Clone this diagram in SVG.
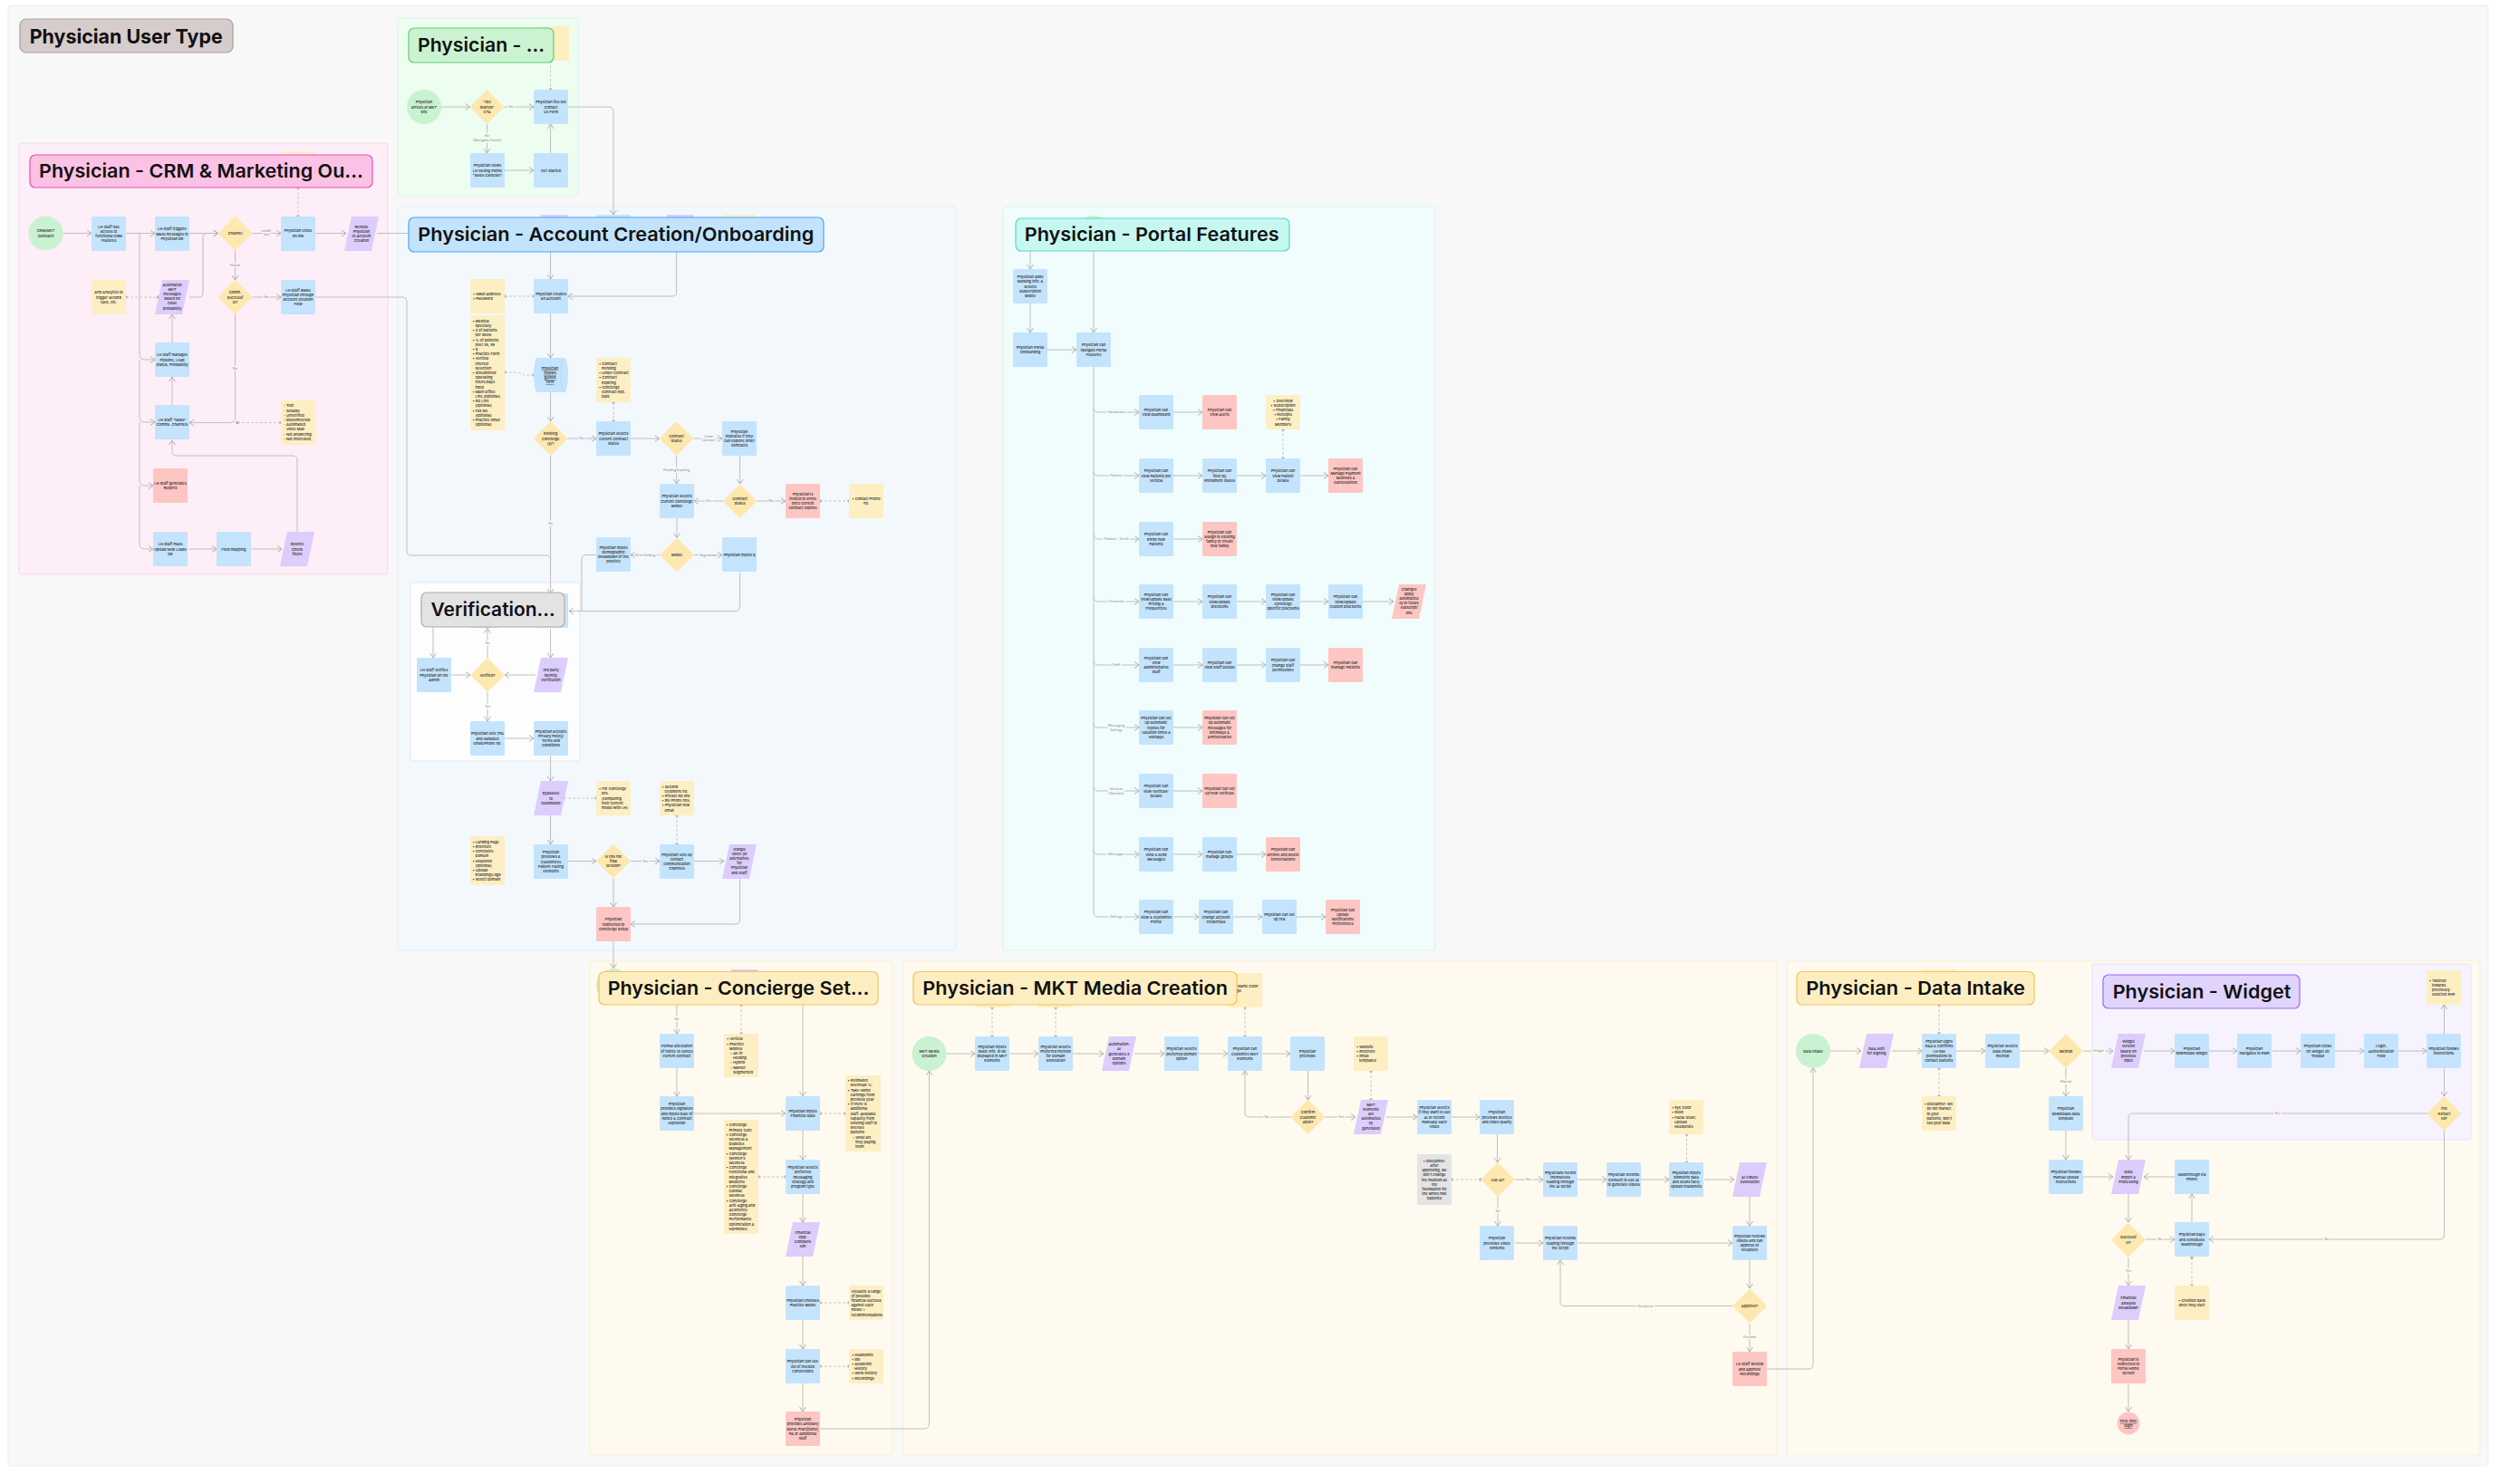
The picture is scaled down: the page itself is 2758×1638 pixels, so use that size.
<svg xmlns="http://www.w3.org/2000/svg" width="2758" height="1638" viewBox="0 0 2758 1638">
<style>
.t{font-family:Inter,'Liberation Sans',sans-serif;font-size:4px;font-weight:500;fill:#222;text-anchor:middle}
.tl{font-family:Inter,'Liberation Sans',sans-serif;font-size:4px;font-weight:500;fill:#222;text-anchor:start}
.u{text-decoration:underline}
.lb{font-family:Inter,'Liberation Sans',sans-serif;font-size:3.6px;fill:#8a8a8a;text-anchor:middle;paint-order:stroke;stroke-width:3;stroke-linejoin:round}
.sp{stroke:#fdeef7}.sg{stroke:#edfdf0}.sb{stroke:#f3f8fd}.sw{stroke:#fdfdfd}.sc{stroke:#f0fdfc}.sy{stroke:#fffaf0}.sv{stroke:#f6f3fe}
.st{font-family:Inter,'Liberation Sans',sans-serif;font-size:20.5px;font-weight:600;fill:#111}
.bx{fill:#c4e4fd}.rd{fill:#fec6c3}.ye{fill:#fdefc2}.pu{fill:#dccdfd}.di{fill:#fde9b0}.gr{fill:#c9f2d1}.gy{fill:#e4e4e4}
.c{fill:none;stroke:#b8b8b8;stroke-width:0.9;marker-end:url(#ah)}
.cn{fill:none;stroke:#b8b8b8;stroke-width:0.9}
.dl{fill:none;stroke:#c4c4c4;stroke-width:0.9;stroke-dasharray:3 2;marker-start:url(#dt);marker-end:url(#dt)}
</style>
<defs>
<marker id="ah" viewBox="0 0 6 8" refX="5.5" refY="4" markerWidth="6" markerHeight="8" markerUnits="userSpaceOnUse" orient="auto"><path d="M0.5,0.5 L5.5,4 L0.5,7.5" fill="none" stroke="#a8a8a8" stroke-width="0.9"/></marker>
<marker id="dt" viewBox="0 0 4 4" refX="2" refY="2" markerWidth="3.6" markerHeight="3.6" markerUnits="userSpaceOnUse"><circle cx="2" cy="2" r="2" fill="#b5b5b5"/></marker>
</defs>
<rect width="2758" height="1638" fill="#ffffff"/>
<rect x="9" y="6" width="2737" height="1612" rx="4" fill="#f8f8f8" stroke="#ececec"/>
<g id="panels">
<rect x="439" y="20" width="199" height="197" rx="3" fill="#edfdf0" stroke="#dcf6e2"/>
<rect x="21" y="158" width="407" height="476" rx="3" fill="#fdeef7" stroke="#f8d8ea"/>
<rect x="439" y="228" width="616" height="821" rx="3" fill="#f3f8fd" stroke="#e3edf7"/>
<rect x="453" y="643" width="187" height="197" rx="3" fill="#fdfdfd" stroke="#e6e6e6"/>
<rect x="1107" y="228" width="477" height="821" rx="3" fill="#f0fdfc" stroke="#d5f5f0"/>
<rect x="651" y="1061" width="334" height="545" rx="3" fill="#fffaf0" stroke="#fbeed3"/>
<rect x="997" y="1061" width="964" height="545" rx="3" fill="#fffaf0" stroke="#fbeed3"/>
<rect x="1972" y="1061" width="765" height="546" rx="3" fill="#fffaf0" stroke="#fbeed3"/>
<rect x="2309" y="1064" width="418" height="194" rx="3" fill="#f6f3fe" stroke="#e8e1fa"/>
</g>
<g id="connectors">
<!-- CRM -->
<path class="c" d="M69.5,257.5 H101"/>
<path class="c" d="M139,257.5 H171"/>
<path class="cn" d="M154,257.5 V391"/>
<path class="c" d="M154,391 Q154,397 160,397 H171"/>
<path class="cn" d="M154,397 V460"/>
<path class="c" d="M154,460 Q154,466 160,466 H171"/>
<path class="cn" d="M154,466 V530"/>
<path class="c" d="M154,530 Q154,536 160,536 H169"/>
<path class="c" d="M154,536 V600 Q154,606 160,606 H169"/>
<path class="c" d="M209,257.5 H240.5"/>
<path class="c" d="M209,328 H219 Q224,328 224,323 V262.5 Q224,257.5 229,257.5 H240.5"/>
<path class="c" d="M278.5,257.5 H310"/>
<text class="lb sp" x="294" y="255.5">email/<tspan x="294" dy="4.4">text</tspan></text>
<path class="c" d="M348,257.5 H382"/>
<path class="c" d="M416,257.5 H595"/>
<path class="c" d="M259.5,276.5 V309"/>
<text class="lb sp" x="259.5" y="294">Phone</text>
<path class="c" d="M278.5,328 H310"/>
<text class="lb sp" x="294" y="329.3">Yes</text>
<path class="cn" d="M348,328 H444 Q449,328 449,333 V608 Q449,613 454,613 H602 Q607.6,613 607.6,618"/>
<path class="c" d="M259.5,347 V461 Q259.5,466.5 254,466.5 H209"/>
<text class="lb sp" x="259.5" y="408.3">No</text>
<path class="dl" d="M310,466.5 H262"/>
<path class="dl" d="M139,328 H174.5"/>
<path class="c" d="M190,378 V347"/>
<path class="c" d="M190,447 V416"/>
<path class="c" d="M328,587 V508 Q328,503 323,503 H195 Q190,503 190,498 V486"/>
<path class="c" d="M208,606 H239"/>
<path class="c" d="M277,606 H311"/>
<path class="dl" d="M329,207 V239"/>
<!-- Green -->
<path class="c" d="M487,118 H518.5"/>
<path class="c" d="M556.5,118 H589"/>
<text class="lb sg" x="564" y="119.3">Yes</text>
<path class="c" d="M537.5,137 V169"/>
<text class="lb sg" x="537.5" y="151">No<tspan x="537.5" dy="4.6">(Navigates Freely)</tspan></text>
<path class="c" d="M557,188 H589"/>
<path class="c" d="M607.6,169 V137"/>
<path class="c" d="M626,118 H672 Q677,118 677,123 V237"/>
<path class="dl" d="M607.6,67 V99"/>
<!-- Account -->
<path class="c" d="M607.6,278 V308"/>
<path class="c" d="M746.6,278 V322 Q746.6,327 741.6,327 H627"/>
<path class="dl" d="M557,327 H589"/>
<path class="c" d="M607.6,346 V395"/>
<path class="dl" d="M557,411 H572 L578,414 H589"/>
<path class="c" d="M607.6,433 V465"/>
<path class="c" d="M626.6,484 H658"/>
<text class="lb sb" x="642" y="485.3">Yes</text>
<path class="dl" d="M677,444 V465"/>
<path class="c" d="M696,484 H727.6"/>
<path class="c" d="M765.6,484 H797"/>
<text class="lb sb" x="782" y="482.6">Under<tspan x="782" dy="4.4">Contract</tspan></text>
<path class="c" d="M746.6,503 V534"/>
<text class="lb sb" x="746.6" y="519.9">Pending/Expiring</text>
<path class="c" d="M816.6,503 V534"/>
<path class="c" d="M797.6,553 H766"/>
<text class="lb sb" x="782" y="554.3">Yes</text>
<path class="c" d="M835.6,553 H867"/>
<text class="lb sb" x="851" y="554.3">No</text>
<path class="dl" d="M905,553 H937"/>
<path class="c" d="M747,572 V593.5"/>
<path class="c" d="M728,612.5 H696"/>
<text class="lb sb" x="712" y="613.8">All in Holding</text>
<path class="c" d="M766,612.5 H797"/>
<text class="lb sb" x="781.6" y="613.8">Segmented</text>
<path class="cn" d="M658,612.5 H647 Q642,612.5 642,617.5 V674.5"/>
<path class="c" d="M816.6,632 V669.5 Q816.6,674.5 811.6,674.5 H628"/>
<path class="c" d="M607.6,503 V655"/>
<text class="lb sb" x="607.6" y="579.3">No</text>
<path class="c" d="M478,692 V726"/>
<path class="c" d="M538,726 V693.5"/>
<text class="lb sw" x="538" y="711.3">No</text>
<path class="c" d="M607.6,694 V726"/>
<path class="c" d="M498,745 H519"/>
<path class="c" d="M591,745 H557"/>
<path class="c" d="M538,764 V796"/>
<text class="lb sw" x="538" y="781.3">Yes</text>
<path class="c" d="M557,815 H589"/>
<path class="c" d="M607.6,834 V862"/>
<path class="dl" d="M622,881 H658"/>
<path class="c" d="M607.6,900 V932"/>
<path class="c" d="M627,950.5 H658"/>
<path class="c" d="M696,950.5 H728"/>
<text class="lb sb" x="712" y="951.8">Yes</text>
<path class="dl" d="M747,900 V932"/>
<path class="c" d="M766,950.5 H799"/>
<path class="c" d="M677,969.5 V1001"/>
<path class="c" d="M816.6,969.5 V1015 Q816.6,1020 811.6,1020 H696"/>
<path class="c" d="M677,1039 V1068.5"/>
<!-- Portal -->
<path class="c" d="M1137,277 V297"/>
<path class="c" d="M1137,335 V367"/>
<path class="c" d="M1207,277 V367"/>
<path class="c" d="M1156,386 H1188"/>
<path class="cn" d="M1207,404 V1007"/>
<path class="c" d="M1207,450 Q1207,455 1212,455 H1257"/>
<path class="c" d="M1207,520 Q1207,525 1212,525 H1257"/>
<path class="c" d="M1207,590 Q1207,595 1212,595 H1257"/>
<path class="c" d="M1207,659 Q1207,664 1212,664 H1257"/>
<path class="c" d="M1207,729 Q1207,734 1212,734 H1257"/>
<path class="c" d="M1207,798 Q1207,803 1212,803 H1257"/>
<path class="c" d="M1207,868 Q1207,873 1212,873 H1257"/>
<path class="c" d="M1207,938 Q1207,943 1212,943 H1257"/>
<path class="c" d="M1207,1007 Q1207,1012 1212,1012 H1257"/>
<text class="lb sc" x="1232" y="456.3">Dashboard</text>
<text class="lb sc" x="1232" y="526.3">Patients</text>
<text class="lb sc" x="1232" y="596.3">Patients - Enroll</text>
<text class="lb sc" x="1232" y="665.3">Financials</text>
<text class="lb sc" x="1232" y="735.3">Staff</text>
<text class="lb sc" x="1232" y="802">Messaging<tspan x="1232" dy="4.6">Settings</tspan></text>
<text class="lb sc" x="1232" y="872">Services<tspan x="1232" dy="4.6">(Verticals)</tspan></text>
<text class="lb sc" x="1232" y="944.3">Messages</text>
<text class="lb sc" x="1232" y="1013.3">Settings</text>
<path class="c" d="M1295,455 H1327"/>
<path class="c" d="M1295,525 H1327"/><path class="c" d="M1365,525 H1397"/><path class="c" d="M1435,525 H1466"/>
<path class="dl" d="M1416,474 V506"/>
<path class="c" d="M1295,595 H1327"/>
<path class="c" d="M1295,664 H1327"/><path class="c" d="M1365,664 H1397"/><path class="c" d="M1435,664 H1466"/><path class="c" d="M1504,664 H1538"/>
<path class="c" d="M1295,734 H1327"/><path class="c" d="M1365,734 H1397"/><path class="c" d="M1435,734 H1466"/>
<path class="c" d="M1295,803 H1327"/>
<path class="c" d="M1295,873 H1327"/>
<path class="c" d="M1295,943 H1327"/><path class="c" d="M1365,943 H1397"/>
<path class="c" d="M1295,1012 H1323"/><path class="c" d="M1361,1012 H1393"/><path class="c" d="M1431,1012 H1463"/>
<!-- Concierge -->
<path class="c" d="M747,1109 V1141"/>
<text class="lb sy" x="747" y="1126.3">No</text>
<path class="dl" d="M818,1109 V1141"/>
<path class="c" d="M886,1109 V1210"/>
<path class="c" d="M747,1178 V1210"/>
<path class="c" d="M766,1229 H867"/>
<path class="dl" d="M905,1229 H933"/>
<path class="c" d="M886,1248 V1280"/>
<path class="dl" d="M837,1299 H867"/>
<path class="c" d="M886,1317 V1349"/>
<path class="c" d="M886,1387 V1419"/>
<path class="dl" d="M905,1438 H937"/>
<path class="c" d="M886,1457 V1489"/>
<path class="dl" d="M905,1508 H937"/>
<path class="c" d="M886,1527 V1558"/>
<path class="c" d="M905,1577 H1020 Q1025.5,1577 1025.5,1571.5 V1182"/>
<!-- MKT -->
<path class="c" d="M1044.5,1163 H1076"/>
<path class="c" d="M1114,1163 H1146"/>
<path class="c" d="M1184,1163 H1218"/>
<path class="c" d="M1252,1163 H1285"/>
<path class="c" d="M1323,1163 H1355"/>
<path class="c" d="M1393,1163 H1424"/>
<path class="dl" d="M1095,1112 V1144"/>
<path class="dl" d="M1165,1112 V1144"/>
<path class="dl" d="M1374,1112 V1144"/>
<path class="c" d="M1443.5,1182 V1214"/>
<path class="c" d="M1424.5,1233 H1379 Q1374,1233 1374,1228 V1182"/>
<text class="lb sy" x="1398" y="1234.3">No</text>
<path class="c" d="M1462.5,1233 H1496"/>
<text class="lb sy" x="1480" y="1234.3">Yes</text>
<path class="dl" d="M1513,1182 V1214"/>
<path class="c" d="M1530,1233 H1564"/>
<path class="c" d="M1602,1233 H1633"/>
<path class="c" d="M1652.5,1252 V1283"/>
<path class="dl" d="M1602,1302 H1634"/>
<path class="c" d="M1672,1302 H1703"/>
<text class="lb sy" x="1687" y="1303.3">Yes</text>
<path class="c" d="M1741,1302 H1773"/>
<path class="c" d="M1811,1302 H1842"/>
<path class="c" d="M1881,1302 H1914"/>
<path class="dl" d="M1861.5,1252 V1283"/>
<path class="c" d="M1653,1321 V1353"/>
<text class="lb sy" x="1653" y="1338.3">No</text>
<path class="c" d="M1672,1372 H1703"/>
<path class="c" d="M1741,1372 H1912"/>
<path class="c" d="M1931,1321 V1353"/>
<path class="c" d="M1931,1391 V1422"/>
<path class="c" d="M1912,1441.5 H1727 Q1722,1441.5 1722,1436.5 V1391"/>
<text class="lb sy" x="1816" y="1442.8">Recapture</text>
<path class="c" d="M1931,1461 V1492"/>
<text class="lb sy" x="1931" y="1477.3">Proceed</text>
<path class="c" d="M1950,1511 H1996 Q2001,1511 2001,1506 V1179"/>
<!-- Data intake -->
<path class="c" d="M2020,1160 H2054"/>
<path class="c" d="M2088,1160 H2121"/>
<path class="dl" d="M2140,1109 V1141"/>
<path class="c" d="M2159,1160 H2191"/>
<path class="c" d="M2229,1160 H2261"/>
<path class="dl" d="M2140,1179 V1210"/>
<path class="c" d="M2280,1179 V1210"/>
<text class="lb sy" x="2280" y="1195.3">Manual</text>
<path class="c" d="M2280,1248 V1280"/>
<path class="c" d="M2299,1299 H2332"/>
<path class="c" d="M2299,1160 H2332"/>
<text class="lb sy" x="2316" y="1161.3">Widget</text>
<!-- Widget -->
<path class="c" d="M2366,1160 H2400"/>
<path class="c" d="M2438,1160 H2469"/>
<path class="c" d="M2508,1160 H2539"/>
<path class="c" d="M2577,1160 H2609"/>
<path class="c" d="M2647,1160 H2678"/>
<path class="c" d="M2697.5,1141 V1109"/>
<path class="c" d="M2697.5,1179 V1210"/>
<path class="c" d="M2678.5,1229 H2354 Q2349,1229 2349,1234 V1280"/>
<text class="lb sv" x="2513" y="1230.3">Yes</text>
<path class="c" d="M2697.5,1248 V1363 Q2697.5,1368 2692.5,1368 H2438"/>
<text class="lb sy" x="2568" y="1369.3">No</text>
<path class="c" d="M2400,1299 H2366"/>
<path class="c" d="M2349,1318 V1349"/>
<path class="c" d="M2368,1368 H2400"/>
<text class="lb sy" x="2384" y="1369.3">No</text>
<path class="c" d="M2419,1349 V1318"/>
<path class="dl" d="M2419,1388 V1419"/>
<path class="c" d="M2349,1388 V1419"/>
<text class="lb sy" x="2349" y="1404.3">Yes</text>
<path class="c" d="M2349,1457 V1489"/>
<path class="c" d="M2349,1527 V1558"/>
</g>
<!-- hidden nodes behind titles -->
<g id="hidden-nodes">
<rect id="crm-note-top" class="ye" x="310" y="168" width="38" height="38" rx="1.5"/>
<rect id="green-note-top" class="ye" x="590" y="29" width="38" height="38" rx="1.5"/>
<polygon id="acct-h1" class="pu" points="597,237 627,237 619,275 589,275"/>
<rect id="acct-h2" class="bx" x="658" y="237" width="38" height="38" rx="1.5"/>
<polygon id="acct-h3" class="pu" points="736,237 766,237 758,275 728,275"/>
<rect id="acct-h4" class="ye" x="797" y="237" width="38" height="38" rx="1.5"/>
<rect id="verif-h1" class="bx" x="589" y="655" width="38" height="38" rx="1.5"/>
<polygon id="verif-h2" class="pu" points="527,655 557,655 549,693 519,693"/>
<circle id="portal-start" class="gr" cx="1207" cy="257" r="19"/>
<circle id="concierge-start" class="gr" cx="677" cy="1088" r="19"/>
<polygon id="concierge-h2" class="pu" points="807,1070 837,1070 829,1108 799,1108"/>
<rect id="mkt-h1" class="ye" x="1076" y="1074" width="38" height="38" rx="1.5"/>
<rect id="mkt-h2" class="ye" x="1146" y="1074" width="38" height="38" rx="1.5"/>
<g id="mkt-h3"><rect class="ye" x="1355" y="1074" width="38" height="38" rx="1.5"/><text class="tl" x="1366" y="1090">Name Color</text><text class="tl" x="1360" y="1095.2">Logo</text></g>
<rect id="data-h1" class="ye" x="2121" y="1070" width="38" height="38" rx="1.5"/>
</g>
<!-- CRM nodes -->
<g id="crm-start"><circle class="gr" cx="50.5" cy="257.5" r="19"/><text class="t" y="256.4"><tspan x="50.5">CRM/MKT</tspan><tspan x="50.5" dy="5.2">Outreach</tspan></text></g>
<g id="crm-access"><rect class="bx" x="101" y="239" width="38" height="38" rx="1.5"/><text class="t" y="251.7"><tspan x="120">LH Staff has</tspan><tspan x="120" dy="5.2">access to</tspan><tspan x="120" dy="5.2">functional CRM</tspan><tspan x="120" dy="5.2">Features</tspan></text></g>
<g id="crm-mass"><rect class="bx" x="171" y="239" width="38" height="38" rx="1.5"/><text class="t" y="254.3"><tspan x="190">LH Staff triggers</tspan><tspan x="190" dy="5.2">Mass messages to</tspan><tspan x="190" dy="5.2">Physician DB</tspan></text></g>
<g id="crm-channel"><polygon class="di" points="259.5,238.5 278.5,257.5 259.5,276.5 240.5,257.5"/><text class="t" x="259.5" y="259">Channel</text></g>
<g id="crm-clicks"><rect class="bx" x="310" y="239" width="38" height="38" rx="1.5"/><text class="t" y="256.4"><tspan x="329">Physician clicks</tspan><tspan x="329" dy="5.2">on link</tspan></text></g>
<g id="crm-reroute"><polygon class="pu" points="388,239 418,239 410,277 380,277"/><text class="t" y="251.7"><tspan x="399">Reroute</tspan><tspan x="399" dy="5.2">Physician</tspan><tspan x="399" dy="5.2">to Account</tspan><tspan x="399" dy="5.2">Creation</tspan></text></g>
<g id="crm-analytics"><rect class="ye" x="101" y="309" width="38" height="38" rx="1.5"/><text class="t" y="324.3"><tspan x="120">And Analytics to</tspan><tspan x="120" dy="5.2">trigger second</tspan><tspan x="120" dy="5.2">calls, etc.</tspan></text></g>
<g id="crm-automated"><polygon class="pu" points="179,309 209,309 201,347 171,347"/><text class="t" y="315.5"><tspan x="190">Automated</tspan><tspan x="190" dy="5.2">MKT</tspan><tspan x="190" dy="5.2">messages</tspan><tspan x="190" dy="5.2">based on</tspan><tspan x="190" dy="5.2">close</tspan><tspan x="190" dy="5.2">probability</tspan></text></g>
<g id="crm-success"><polygon class="di" points="259.5,309 278.5,328 259.5,347 240.5,328"/><text class="t" y="324.3"><tspan x="259.5">Comm.</tspan><tspan x="259.5" dy="5.2">Successf</tspan><tspan x="259.5" dy="5.2">ul?</tspan></text></g>
<g id="crm-walks"><rect class="bx" x="310" y="309" width="38" height="38" rx="1.5"/><text class="t" y="321.7"><tspan x="329">LH Staff walks</tspan><tspan x="329" dy="5.2">Physician through</tspan><tspan x="329" dy="5.2">account Creation</tspan><tspan x="329" dy="5.2">Flow</tspan></text></g>
<g id="crm-pipeline"><rect class="bx" x="171" y="378" width="38" height="38" rx="1.5"/><text class="t" y="393.3"><tspan x="190">LH Staff manages</tspan><tspan x="190" dy="5.2">Pipeline, Lead</tspan><tspan x="190" dy="5.2">Status, Probability</tspan></text></g>
<g id="crm-tasks"><rect class="bx" x="171" y="447" width="38" height="38" rx="1.5"/><text class="t" y="465"><tspan x="190">LH Staff "tasks"</tspan><tspan x="190" dy="5.2">Comms. Channels</tspan></text></g>
<g id="crm-outcomes"><rect class="ye" x="310" y="442" width="38" height="49" rx="1.5"/><text class="tl" y="449.3"><tspan x="313">- Text</tspan><tspan x="313" dy="5.2">- Sellable</tspan><tspan x="313" dy="5.2">- Unverified</tspan><tspan x="313" dy="5.2">- Disconnected</tspan><tspan x="313" dy="5.2">- Automated</tspan><tspan x="316" dy="5.2">Voice Mail</tspan><tspan x="313" dy="5.2">- Not answering</tspan><tspan x="313" dy="5.2">- Not interested</tspan></text></g>
<g id="crm-reports"><rect class="rd" x="169" y="517" width="38" height="38" rx="1.5"/><text class="t" y="534.9"><tspan x="188">LH Staff generates</tspan><tspan x="188" dy="5.2">Reports</tspan></text></g>
<g id="crm-upload"><rect class="bx" x="169" y="587" width="38" height="38" rx="1.5"/><text class="t" y="602.3"><tspan x="188">LH Staff mass</tspan><tspan x="188" dy="5.2">upload New Leads</tspan><tspan x="188" dy="5.2">DB</tspan></text></g>
<g id="crm-field"><rect class="bx" x="239" y="587" width="38" height="38" rx="1.5"/><text class="t" x="258" y="607.5">Field mapping</text></g>
<g id="crm-bounce"><polygon class="pu" points="317,587 347,587 339,625 309,625"/><text class="t" y="602.3"><tspan x="328">Bounce</tspan><tspan x="328" dy="5.2">Check</tspan><tspan x="328" dy="5.2">filters</tspan></text></g>
<!-- Green nodes -->
<g id="mkt-site-start"><circle class="gr" cx="468" cy="118" r="19"/><text class="t" y="114.3"><tspan x="468">Physician</tspan><tspan x="468" dy="5.2">arrives at MKT</tspan><tspan x="468" dy="5.2">Site</tspan></text></g>
<g id="cta"><polygon class="di" points="537.5,99 556.5,118 537.5,137 518.5,118"/><text class="t" y="114.3"><tspan x="537.5">"Get</tspan><tspan x="537.5" dy="5.2">Started"</tspan><tspan x="537.5" dy="5.2">CTA</tspan></text></g>
<g id="contact-form"><rect class="bx" x="589" y="99" width="38" height="38" rx="1.5"/><text class="t" y="114.3"><tspan x="608">Physician fills out</tspan><tspan x="608" dy="5.2">Contact</tspan><tspan x="608" dy="5.2">Us Form</tspan></text></g>
<g id="sales-carousel"><rect class="bx" x="519" y="169" width="38" height="38" rx="1.5"/><text class="t" y="184.3"><tspan x="538">Physician views</tspan><tspan x="538" dy="5.2">LH Selling Points</tspan><tspan x="538" dy="5.2">"Sales Carousel"</tspan></text></g>
<g id="get-started"><rect class="bx" x="589" y="169" width="38" height="38" rx="1.5"/><text class="t" x="608" y="189.5">Get Started</text></g>
<!-- Account nodes -->
<g id="acct-email"><rect class="ye" x="519" y="308" width="38" height="38" rx="1.5"/><text class="tl" y="325.9"><tspan x="522">• eMail Address</tspan><tspan x="522" dy="5.2">• Password</tspan></text></g>
<g id="acct-create"><rect class="bx" x="589" y="308" width="38" height="38" rx="1.5"/><text class="t" y="325.9"><tspan x="608">Physician creates</tspan><tspan x="608" dy="5.2">an Account</tspan></text></g>
<g id="acct-fields"><rect class="ye" x="519" y="348" width="38" height="127" rx="1.5"/><text class="tl" y="355.8"><tspan x="521.5">• Medical</tspan><tspan x="524.5" dy="5.2">Specialty</tspan><tspan x="521.5" dy="5.2">• # of patients</tspan><tspan x="524.5" dy="5.2">per week</tspan><tspan x="521.5" dy="5.2">• % of patients</tspan><tspan x="524.5" dy="5.2">over 35, 55</tspan><tspan x="521.5" dy="5.2">• q</tspan><tspan x="521.5" dy="5.2">• Practice Form</tspan><tspan x="521.5" dy="5.2">• Vertical</tspan><tspan x="524.5" dy="5.2">Interest</tspan><tspan x="524.5" dy="5.2">Selection</tspan><tspan x="521.5" dy="5.2">• Streamlined</tspan><tspan x="524.5" dy="5.2">Operating</tspan><tspan x="524.5" dy="5.2">hours/days</tspan><tspan x="524.5" dy="5.2">input</tspan><tspan x="521.5" dy="5.2">• Main Office</tspan><tspan x="524.5" dy="5.2">Line (optional)</tspan><tspan x="521.5" dy="5.2">• BO Line</tspan><tspan x="524.5" dy="5.2">(optional)</tspan><tspan x="521.5" dy="5.2">• Fax No.</tspan><tspan x="524.5" dy="5.2">(optional)</tspan><tspan x="521.5" dy="5.2">• Practice email</tspan><tspan x="524.5" dy="5.2">(optional)</tspan></text></g>
<g id="acct-guided"><path class="bx" d="M593,395 H623 A4,19 0 0 1 623,433 H593 A4,19 0 0 1 593,395 Z"/><path d="M623,395 A4,19 0 0 0 623,433" fill="none" stroke="#a9d3f5" stroke-width="0.6"/><text class="t u" y="407.7"><tspan x="607">Physician</tspan><tspan x="607" dy="5.2">follows</tspan><tspan x="607" dy="5.2">guided</tspan><tspan x="607" dy="5.2">form</tspan></text></g>
<g id="acct-existing"><polygon class="di" points="607.6,465 626.6,484 607.6,503 588.6,484"/><text class="t" y="480.3"><tspan x="607.6">Existing</tspan><tspan x="607.6" dy="5.2">Concierge</tspan><tspan x="607.6" dy="5.2">(y)?</tspan></text></g>
<g id="acct-contract-note"><rect class="ye" x="658" y="395" width="38" height="49" rx="1.5"/><text class="tl" y="402.8"><tspan x="661">• Contract</tspan><tspan x="664" dy="5.2">Pending</tspan><tspan x="661" dy="5.2">• Under Contract</tspan><tspan x="661" dy="5.2">• Contract</tspan><tspan x="664" dy="5.2">Expiring</tspan><tspan x="661" dy="5.2">• Concierge</tspan><tspan x="664" dy="5.2">Contract Exp.</tspan><tspan x="664" dy="5.2">Date</tspan></text></g>
<g id="acct-contract-status"><rect class="bx" x="658" y="465" width="38" height="38" rx="1.5"/><text class="t" y="480.3"><tspan x="677">Physician selects</tspan><tspan x="677" dy="5.2">current Contract</tspan><tspan x="677" dy="5.2">Status</tspan></text></g>
<g id="acct-status-dia"><polygon class="di" points="746.6,465 765.6,484 746.6,503 727.6,484"/><text class="t" y="482.9"><tspan x="746.6">Contract</tspan><tspan x="746.6" dy="5.2">Status</tspan></text></g>
<g id="acct-explore"><rect class="bx" x="797" y="465" width="38" height="38" rx="1.5"/><text class="t" y="477.7"><tspan x="816">Physician</tspan><tspan x="816" dy="5.2">indicates if they</tspan><tspan x="816" dy="5.2">can explore other</tspan><tspan x="816" dy="5.2">contracts</tspan></text></g>
<g id="acct-current-model"><rect class="bx" x="728" y="534" width="38" height="38" rx="1.5"/><text class="t" y="549.3"><tspan x="747">Physician selects</tspan><tspan x="747" dy="5.2">Current Concierge</tspan><tspan x="747" dy="5.2">Model</tspan></text></g>
<g id="acct-status-dia2"><polygon class="di" points="816.6,534 835.6,553 816.6,572 797.6,553"/><text class="t" y="551.9"><tspan x="816.6">Contract</tspan><tspan x="816.6" dy="5.2">Status</tspan></text></g>
<g id="acct-invited"><rect class="rd" x="867" y="534" width="38" height="38" rx="1.5"/><text class="t" y="546.7"><tspan x="886">Physician is</tspan><tspan x="886" dy="5.2">invited to enroll</tspan><tspan x="886" dy="5.2">once current</tspan><tspan x="886" dy="5.2">contract expires</tspan></text></g>
<g id="acct-phone-note"><rect class="ye" x="937" y="534" width="38" height="38" rx="1.5"/><text class="t" y="551.9"><tspan x="956">• Contact Phone</tspan><tspan x="956" dy="5.2">no.</tspan></text></g>
<g id="acct-model"><polygon class="di" points="747,593.5 766,612.5 747,631.5 728,612.5"/><text class="t" x="747" y="614">Model</text></g>
<g id="acct-demographic"><rect class="bx" x="658" y="593" width="38" height="38" rx="1.5"/><text class="t" y="605.7"><tspan x="677">Physician inputs</tspan><tspan x="677" dy="5.2">Demographic</tspan><tspan x="677" dy="5.2">breakdown of the</tspan><tspan x="677" dy="5.2">practice</tspan></text></g>
<g id="acct-inputs-q"><rect class="bx" x="797" y="593" width="38" height="38" rx="1.5"/><text class="t" x="816" y="613.5">Physician inputs q</text></g>
<!-- Verification nodes -->
<g id="ver-admin"><rect class="bx" x="460" y="726" width="38" height="38" rx="1.5"/><text class="t" y="741.3"><tspan x="479">LH Staff verifies</tspan><tspan x="479" dy="5.2">Physician on the</tspan><tspan x="479" dy="5.2">Admin</tspan></text></g>
<g id="ver-verified"><polygon class="di" points="538,726 557,745 538,764 519,745"/><text class="t" x="538" y="746.5">Verified?</text></g>
<g id="ver-3rd"><polygon class="pu" points="597,726 627,726 619,764 589,764"/><text class="t" y="741.3"><tspan x="608">3rd party</tspan><tspan x="608" dy="5.2">identity</tspan><tspan x="608" dy="5.2">verification</tspan></text></g>
<g id="ver-2fa"><rect class="bx" x="519" y="796" width="38" height="38" rx="1.5"/><text class="t" y="811.3"><tspan x="538">Physician sets 2FA</tspan><tspan x="538" dy="5.2">and validates</tspan><tspan x="538" dy="5.2">email/Phone no.</tspan></text></g>
<g id="ver-privacy"><rect class="bx" x="589" y="796" width="38" height="38" rx="1.5"/><text class="t" y="808.7"><tspan x="608">Physician accepts</tspan><tspan x="608" dy="5.2">Privacy Policy/</tspan><tspan x="608" dy="5.2">Terms and</tspan><tspan x="608" dy="5.2">conditions</tspan></text></g>
<g id="acct-bypass"><polygon class="pu" points="597,862 627,862 619,900 589,900"/><text class="t" y="877.3"><tspan x="608">Bypasses</tspan><tspan x="608" dy="5.2">to</tspan><tspan x="608" dy="5.2">Dashboard</tspan></text></g>
<g id="acct-drs-note"><rect class="ye" x="658" y="862" width="38" height="38" rx="1.5"/><text class="tl" y="872.1"><tspan x="661">• For Concierge</tspan><tspan x="664" dy="5.2">Drs.</tspan><tspan x="664" dy="5.2">(comparing</tspan><tspan x="664" dy="5.2">their current</tspan><tspan x="664" dy="5.2">model with LH)</tspan></text></g>
<g id="acct-cell-note"><rect class="ye" x="728" y="862" width="38" height="38" rx="1.5"/><text class="tl" y="869.5"><tspan x="730.5">• Second</tspan><tspan x="733.5" dy="5.2">cellphone no.</tspan><tspan x="730.5" dy="5.2">• Private BO line</tspan><tspan x="730.5" dy="5.2">• Bill Phone nos.</tspan><tspan x="730.5" dy="5.2">• Physician new</tspan><tspan x="733.5" dy="5.2">email</tspan></text></g>
<g id="acct-landing-note"><rect class="ye" x="519" y="923" width="38" height="54" rx="1.5"/><text class="tl" y="930.7"><tspan x="521.5">• Landing Page</tspan><tspan x="521.5" dy="5.2">• Brochure</tspan><tspan x="521.5" dy="5.2">• Generates</tspan><tspan x="524.5" dy="5.2">Domain</tspan><tspan x="521.5" dy="5.2">• Headshot</tspan><tspan x="524.5" dy="5.2">(optional)</tspan><tspan x="521.5" dy="5.2">• Upload</tspan><tspan x="524.5" dy="5.2">Branding/Logo</tspan><tspan x="521.5" dy="5.2">• Select Domain</tspan></text></g>
<g id="acct-previews"><rect class="bx" x="589" y="932" width="38" height="38" rx="1.5"/><text class="t" y="942.1"><tspan x="608">Physician</tspan><tspan x="608" dy="5.2">previews &amp;</tspan><tspan x="608" dy="5.2">Customizes</tspan><tspan x="608" dy="5.2">Patient-Facing</tspan><tspan x="608" dy="5.2">elements</tspan></text></g>
<g id="acct-final"><polygon class="di" points="677,931.5 696,950.5 677,969.5 658,950.5"/><text class="t" y="946.8"><tspan x="677">Is this the</tspan><tspan x="677" dy="5.2">final</tspan><tspan x="677" dy="5.2">version?</tspan></text></g>
<g id="acct-channels"><rect class="bx" x="728" y="932" width="38" height="38" rx="1.5"/><text class="t" y="944.7"><tspan x="747">Physician sets up</tspan><tspan x="747" dy="5.2">contact</tspan><tspan x="747" dy="5.2">communication</tspan><tspan x="747" dy="5.2">channels</tspan></text></g>
<g id="acct-gvoice"><polygon class="pu" points="805,932 835,932 827,970 797,970"/><text class="t" y="938.5"><tspan x="816">Google</tspan><tspan x="816" dy="5.2">Voice (or</tspan><tspan x="816" dy="5.2">alternative)</tspan><tspan x="816" dy="5.2">for</tspan><tspan x="816" dy="5.2">Physician</tspan><tspan x="816" dy="5.2">and Staff</tspan></text></g>
<g id="acct-redirect"><rect class="rd" x="658" y="1001" width="38" height="38" rx="1.5"/><text class="t" y="1016.3"><tspan x="677">Physician</tspan><tspan x="677" dy="5.2">redirected to</tspan><tspan x="677" dy="5.2">Concierge Setup</tspan></text></g>
<!-- Portal nodes -->
<g id="portal-banking"><rect class="bx" x="1118" y="297" width="38" height="38" rx="1.5"/><text class="t" y="307.1"><tspan x="1137">Physician adds</tspan><tspan x="1137" dy="5.2">banking info. &amp;</tspan><tspan x="1137" dy="5.2">selects</tspan><tspan x="1137" dy="5.2">Subscription</tspan><tspan x="1137" dy="5.2">Model</tspan></text></g>
<g id="portal-onboarding"><rect class="bx" x="1118" y="367" width="38" height="38" rx="1.5"/><text class="t" y="384.9"><tspan x="1137">Physician Portal</tspan><tspan x="1137" dy="5.2">Onboarding</tspan></text></g>
<g id="portal-navigate"><rect class="bx" x="1188" y="367" width="38" height="38" rx="1.5"/><text class="t" y="382.3"><tspan x="1207">Physician can</tspan><tspan x="1207" dy="5.2">navigate Portal</tspan><tspan x="1207" dy="5.2">Features</tspan></text></g>
<g id="p-r1a"><rect class="bx" x="1257" y="436" width="38" height="38" rx="1.5"/><text class="t" y="453.9"><tspan x="1276">Physician can</tspan><tspan x="1276" dy="5.2">view Dashboard</tspan></text></g>
<g id="p-r1b"><rect class="rd" x="1327" y="436" width="38" height="38" rx="1.5"/><text class="t" y="453.9"><tspan x="1346">Physician can</tspan><tspan x="1346" dy="5.2">view Alerts</tspan></text></g>
<g id="p-r1c"><rect class="ye" x="1397" y="436" width="38" height="38" rx="1.5"/><text class="t" y="443.5"><tspan x="1416">• Overview</tspan><tspan x="1416" dy="5.2">• Subscription</tspan><tspan x="1416" dy="5.2">• Financials</tspan><tspan x="1416" dy="5.2">• Receipts</tspan><tspan x="1416" dy="5.2">• Family</tspan><tspan x="1416" dy="5.2">Members</tspan></text></g>
<g id="p-r2a"><rect class="bx" x="1257" y="506" width="38" height="38" rx="1.5"/><text class="t" y="521.3"><tspan x="1276">Physician can</tspan><tspan x="1276" dy="5.2">view Patients per</tspan><tspan x="1276" dy="5.2">Vertical</tspan></text></g>
<g id="p-r2b"><rect class="bx" x="1327" y="506" width="38" height="38" rx="1.5"/><text class="t" y="521.3"><tspan x="1346">Physician can</tspan><tspan x="1346" dy="5.2">filter by</tspan><tspan x="1346" dy="5.2">Enrollment Status</tspan></text></g>
<g id="p-r2c"><rect class="bx" x="1397" y="506" width="38" height="38" rx="1.5"/><text class="t" y="521.3"><tspan x="1416">Physician can</tspan><tspan x="1416" dy="5.2">view Patient</tspan><tspan x="1416" dy="5.2">Details</tspan></text></g>
<g id="p-r2d"><rect class="rd" x="1466" y="506" width="38" height="38" rx="1.5"/><text class="t" y="518.7"><tspan x="1485">Physician can</tspan><tspan x="1485" dy="5.2">Manage Payment</tspan><tspan x="1485" dy="5.2">Methods &amp;</tspan><tspan x="1485" dy="5.2">Cancellations</tspan></text></g>
<g id="p-r3a"><rect class="bx" x="1257" y="576" width="38" height="38" rx="1.5"/><text class="t" y="591.3"><tspan x="1276">Physician can</tspan><tspan x="1276" dy="5.2">Enroll new</tspan><tspan x="1276" dy="5.2">Patients</tspan></text></g>
<g id="p-r3b"><rect class="rd" x="1327" y="576" width="38" height="38" rx="1.5"/><text class="t" y="588.7"><tspan x="1346">Physician can</tspan><tspan x="1346" dy="5.2">assign to existing</tspan><tspan x="1346" dy="5.2">family or create</tspan><tspan x="1346" dy="5.2">new family</tspan></text></g>
<g id="p-r4a"><rect class="bx" x="1257" y="645" width="38" height="38" rx="1.5"/><text class="t" y="657.7"><tspan x="1276">Physician can</tspan><tspan x="1276" dy="5.2">view/update Base</tspan><tspan x="1276" dy="5.2">Pricing &amp;</tspan><tspan x="1276" dy="5.2">Frequencies</tspan></text></g>
<g id="p-r4b"><rect class="bx" x="1327" y="645" width="38" height="38" rx="1.5"/><text class="t" y="660.3"><tspan x="1346">Physician can</tspan><tspan x="1346" dy="5.2">view/update</tspan><tspan x="1346" dy="5.2">Discounts</tspan></text></g>
<g id="p-r4c"><rect class="bx" x="1397" y="645" width="38" height="38" rx="1.5"/><text class="t" y="657.7"><tspan x="1416">Physician can</tspan><tspan x="1416" dy="5.2">view/update</tspan><tspan x="1416" dy="5.2">Concierge</tspan><tspan x="1416" dy="5.2">Specific Discounts</tspan></text></g>
<g id="p-r4d"><rect class="bx" x="1466" y="645" width="38" height="38" rx="1.5"/><text class="t" y="660.3"><tspan x="1485">Physician can</tspan><tspan x="1485" dy="5.2">view/update</tspan><tspan x="1485" dy="5.2">custom Discounts</tspan></text></g>
<g id="p-r4e"><polygon class="rd" points="1544,645 1574,645 1566,683 1536,683"/><text class="t" y="651.5"><tspan x="1555">Changes</tspan><tspan x="1555" dy="5.2">apply</tspan><tspan x="1555" dy="5.2">automatica</tspan><tspan x="1555" dy="5.2">lly to future</tspan><tspan x="1555" dy="5.2">subscripti</tspan><tspan x="1555" dy="5.2">ons</tspan></text></g>
<g id="p-r5a"><rect class="bx" x="1257" y="715" width="38" height="38" rx="1.5"/><text class="t" y="727.7"><tspan x="1276">Physician can</tspan><tspan x="1276" dy="5.2">view</tspan><tspan x="1276" dy="5.2">Administrative</tspan><tspan x="1276" dy="5.2">Staff</tspan></text></g>
<g id="p-r5b"><rect class="bx" x="1327" y="715" width="38" height="38" rx="1.5"/><text class="t" y="732.9"><tspan x="1346">Physician can</tspan><tspan x="1346" dy="5.2">view Staff Details</tspan></text></g>
<g id="p-r5c"><rect class="bx" x="1397" y="715" width="38" height="38" rx="1.5"/><text class="t" y="730.3"><tspan x="1416">Physician can</tspan><tspan x="1416" dy="5.2">change Staff</tspan><tspan x="1416" dy="5.2">permissions</tspan></text></g>
<g id="p-r5d"><rect class="rd" x="1466" y="715" width="38" height="38" rx="1.5"/><text class="t" y="732.9"><tspan x="1485">Physician can</tspan><tspan x="1485" dy="5.2">manage Patients</tspan></text></g>
<g id="p-r6a"><rect class="bx" x="1257" y="784" width="38" height="38" rx="1.5"/><text class="t" y="794.1"><tspan x="1276">Physician can set</tspan><tspan x="1276" dy="5.2">up automatic</tspan><tspan x="1276" dy="5.2">replies for</tspan><tspan x="1276" dy="5.2">Vacation times &amp;</tspan><tspan x="1276" dy="5.2">Holidays</tspan></text></g>
<g id="p-r6b"><rect class="rd" x="1327" y="784" width="38" height="38" rx="1.5"/><text class="t" y="794.1"><tspan x="1346">Physician can set</tspan><tspan x="1346" dy="5.2">up automatic</tspan><tspan x="1346" dy="5.2">messages for</tspan><tspan x="1346" dy="5.2">Birthdays &amp;</tspan><tspan x="1346" dy="5.2">Anniversaries</tspan></text></g>
<g id="p-r7a"><rect class="bx" x="1257" y="854" width="38" height="38" rx="1.5"/><text class="t" y="869.3"><tspan x="1276">Physician can</tspan><tspan x="1276" dy="5.2">view Verticals'</tspan><tspan x="1276" dy="5.2">Details</tspan></text></g>
<g id="p-r7b"><rect class="rd" x="1327" y="854" width="38" height="38" rx="1.5"/><text class="t" y="871.9"><tspan x="1346">Physician can set</tspan><tspan x="1346" dy="5.2">up new Verticals</tspan></text></g>
<g id="p-r8a"><rect class="bx" x="1257" y="924" width="38" height="38" rx="1.5"/><text class="t" y="939.3"><tspan x="1276">Physician can</tspan><tspan x="1276" dy="5.2">view &amp; send</tspan><tspan x="1276" dy="5.2">Messages</tspan></text></g>
<g id="p-r8b"><rect class="bx" x="1327" y="924" width="38" height="38" rx="1.5"/><text class="t" y="941.9"><tspan x="1346">Physician can</tspan><tspan x="1346" dy="5.2">manage groups</tspan></text></g>
<g id="p-r8c"><rect class="rd" x="1397" y="924" width="38" height="38" rx="1.5"/><text class="t" y="939.3"><tspan x="1416">Physician can</tspan><tspan x="1416" dy="5.2">archive and delete</tspan><tspan x="1416" dy="5.2">conversations</tspan></text></g>
<g id="p-r9a"><rect class="bx" x="1257" y="993" width="38" height="38" rx="1.5"/><text class="t" y="1008.3"><tspan x="1276">Physician can</tspan><tspan x="1276" dy="5.2">view &amp; Customize</tspan><tspan x="1276" dy="5.2">Profile</tspan></text></g>
<g id="p-r9b"><rect class="bx" x="1323" y="993" width="38" height="38" rx="1.5"/><text class="t" y="1008.3"><tspan x="1342">Physician can</tspan><tspan x="1342" dy="5.2">change account</tspan><tspan x="1342" dy="5.2">credentials</tspan></text></g>
<g id="p-r9c"><rect class="bx" x="1393" y="993" width="38" height="38" rx="1.5"/><text class="t" y="1010.9"><tspan x="1412">Physician can set</tspan><tspan x="1412" dy="5.2">up 2FA</tspan></text></g>
<g id="p-r9d"><rect class="rd" x="1463" y="993" width="38" height="38" rx="1.5"/><text class="t" y="1005.7"><tspan x="1482">Physician can</tspan><tspan x="1482" dy="5.2">update</tspan><tspan x="1482" dy="5.2">Notifications</tspan><tspan x="1482" dy="5.2">Preferences</tspan></text></g>
<!-- Concierge nodes -->
<g id="con-attest"><rect class="bx" x="728" y="1141" width="38" height="38" rx="1.5"/><text class="t" y="1156.3"><tspan x="747">Formal attestation</tspan><tspan x="747" dy="5.2">of notice to cancel</tspan><tspan x="747" dy="5.2">current contract</tspan></text></g>
<g id="con-vertical-note"><rect class="ye" x="799" y="1141" width="38" height="48" rx="1.5"/><text class="tl" y="1148.3"><tspan x="802">• Vertical</tspan><tspan x="802" dy="5.2">• Practice</tspan><tspan x="805" dy="5.2">Models</tspan><tspan x="806" dy="5.2">◦ All-in</tspan><tspan x="809" dy="5.2">Holding</tspan><tspan x="806" dy="5.2">◦ Hybrid</tspan><tspan x="806" dy="5.2">◦ Market</tspan><tspan x="809" dy="5.2">Segmented</tspan></text></g>
<g id="con-signature"><rect class="bx" x="728" y="1210" width="38" height="38" rx="1.5"/><text class="t" y="1220.1"><tspan x="747">Physician</tspan><tspan x="747" dy="5.2">provides signature</tspan><tspan x="747" dy="5.2">and inputs Date of</tspan><tspan x="747" dy="5.2">notice &amp; Contract</tspan><tspan x="747" dy="5.2">expiration</tspan></text></g>
<g id="con-financial"><rect class="bx" x="867" y="1210" width="38" height="38" rx="1.5"/><text class="t" y="1227.9"><tspan x="886">Physician inputs</tspan><tspan x="886" dy="5.2">Financial Data</tspan></text></g>
<g id="con-overhead-note"><rect class="ye" x="933" y="1187" width="39" height="84" rx="1.5"/><text class="tl" y="1194.1"><tspan x="935.5">• Estimated</tspan><tspan x="938.5" dy="5.2">overhead %:</tspan><tspan x="935.5" dy="5.2">• Take-Home</tspan><tspan x="938.5" dy="5.2">earnings from</tspan><tspan x="938.5" dy="5.2">previous year</tspan><tspan x="935.5" dy="5.2">• If there is</tspan><tspan x="938.5" dy="5.2">additional</tspan><tspan x="938.5" dy="5.2">staff: Available</tspan><tspan x="938.5" dy="5.2">capacity from</tspan><tspan x="938.5" dy="5.2">existing staff to</tspan><tspan x="938.5" dy="5.2">oversee</tspan><tspan x="938.5" dy="5.2">patients</tspan><tspan x="941" dy="5.2">◦ What are</tspan><tspan x="944" dy="5.2">they paying</tspan><tspan x="944" dy="5.2">them</tspan></text></g>
<g id="con-programs-note"><rect class="ye" x="799" y="1236" width="38" height="126" rx="1.5"/><text class="tl" y="1243.3"><tspan x="801.5">• Concierge</tspan><tspan x="804.5" dy="5.2">Primary Care</tspan><tspan x="801.5" dy="5.2">• Concierge</tspan><tspan x="804.5" dy="5.2">Wellness &amp;</tspan><tspan x="804.5" dy="5.2">Diabetes</tspan><tspan x="804.5" dy="5.2">Management</tspan><tspan x="801.5" dy="5.2">• Concierge</tspan><tspan x="804.5" dy="5.2">Women's</tspan><tspan x="804.5" dy="5.2">Wellness</tspan><tspan x="801.5" dy="5.2">• Concierge</tspan><tspan x="804.5" dy="5.2">Functional and</tspan><tspan x="804.5" dy="5.2">Integrative</tspan><tspan x="804.5" dy="5.2">Medicine</tspan><tspan x="801.5" dy="5.2">• Concierge</tspan><tspan x="804.5" dy="5.2">Cardiac</tspan><tspan x="804.5" dy="5.2">Wellness</tspan><tspan x="801.5" dy="5.2">• Concierge</tspan><tspan x="804.5" dy="5.2">Anti-Aging and</tspan><tspan x="804.5" dy="5.2">Aesthetics</tspan><tspan x="804.5" dy="5.2">Concierge</tspan><tspan x="804.5" dy="5.2">Performance</tspan><tspan x="804.5" dy="5.2">Optimization &amp;</tspan><tspan x="804.5" dy="5.2">Hormones</tspan></text></g>
<g id="con-messaging"><rect class="bx" x="867" y="1280" width="38" height="38" rx="1.5"/><text class="t" y="1290.1"><tspan x="886">Physician selects</tspan><tspan x="886" dy="5.2">preferred</tspan><tspan x="886" dy="5.2">messaging</tspan><tspan x="886" dy="5.2">strategy and</tspan><tspan x="886" dy="5.2">program type</tspan></text></g>
<g id="con-comparison"><polygon class="pu" points="875,1349 905,1349 897,1387 867,1387"/><text class="t" y="1361.7"><tspan x="886">Financial</tspan><tspan x="886" dy="5.2">Opp.</tspan><tspan x="886" dy="5.2">Comparis</tspan><tspan x="886" dy="5.2">son</tspan></text></g>
<g id="con-practice-model"><rect class="bx" x="867" y="1419" width="38" height="38" rx="1.5"/><text class="t" y="1436.9"><tspan x="886">Physician chooses</tspan><tspan x="886" dy="5.2">Practice Model</tspan></text></g>
<g id="con-visualize-note"><rect class="ye" x="937" y="1419" width="38" height="38" rx="1.5"/><text class="tl" y="1426.5"><tspan x="939.5">Visualize a range</tspan><tspan x="939.5" dy="5.2">of possible</tspan><tspan x="939.5" dy="5.2">financial success</tspan><tspan x="939.5" dy="5.2">against each</tspan><tspan x="939.5" dy="5.2">model +</tspan><tspan x="939.5" dy="5.2">recommendations</tspan></text></g>
<g id="con-conversions"><rect class="bx" x="867" y="1489" width="38" height="38" rx="1.5"/><text class="t" y="1504.3"><tspan x="886">Physician can see</tspan><tspan x="886" dy="5.2">list of needed</tspan><tspan x="886" dy="5.2">conversions</tspan></text></g>
<g id="con-headshots-note"><rect class="ye" x="937" y="1489" width="38" height="38" rx="1.5"/><text class="tl" y="1496.5"><tspan x="940">• Headshots</tspan><tspan x="940" dy="5.2">• Bio</tspan><tspan x="940" dy="5.2">• Academic</tspan><tspan x="943" dy="5.2">History</tspan><tspan x="940" dy="5.2">• Work History</tspan><tspan x="940" dy="5.2">• Recordings</tspan></text></g>
<g id="con-ancillary"><rect class="rd" x="867" y="1558" width="38" height="38" rx="1.5"/><text class="t" y="1568.1"><tspan x="886">Physician</tspan><tspan x="886" dy="5.2">provides Ancillary</tspan><tspan x="886" dy="5.2">Nurse Practitioner,</tspan><tspan x="886" dy="5.2">PA or Additional</tspan><tspan x="886" dy="5.2">staff</tspan></text></g>
<!-- MKT nodes -->
<g id="mkt-start"><circle class="gr" cx="1025.5" cy="1163" r="19"/><text class="t" y="1161.9"><tspan x="1025.5">MKT Media</tspan><tspan x="1025.5" dy="5.2">Creation</tspan></text></g>
<g id="mkt-basic"><rect class="bx" x="1076" y="1144" width="38" height="38" rx="1.5"/><text class="t" y="1156.7"><tspan x="1095">Physician inputs</tspan><tspan x="1095" dy="5.2">Basic Info. to be</tspan><tspan x="1095" dy="5.2">displayed in MKT</tspan><tspan x="1095" dy="5.2">Elements</tspan></text></g>
<g id="mkt-method"><rect class="bx" x="1146" y="1144" width="38" height="38" rx="1.5"/><text class="t" y="1156.7"><tspan x="1165">Physician selects</tspan><tspan x="1165" dy="5.2">Preferred method</tspan><tspan x="1165" dy="5.2">for Domain</tspan><tspan x="1165" dy="5.2">Generation</tspan></text></g>
<g id="mkt-ai-domain"><polygon class="pu" points="1224,1144 1254,1144 1246,1182 1216,1182"/><text class="t" y="1154.1"><tspan x="1235">Automation:</tspan><tspan x="1235" dy="5.2">AI</tspan><tspan x="1235" dy="5.2">generates 3</tspan><tspan x="1235" dy="5.2">Domain</tspan><tspan x="1235" dy="5.2">Options</tspan></text></g>
<g id="mkt-domain"><rect class="bx" x="1285" y="1144" width="38" height="38" rx="1.5"/><text class="t" y="1159.3"><tspan x="1304">Physician selects</tspan><tspan x="1304" dy="5.2">preferred Domain</tspan><tspan x="1304" dy="5.2">option</tspan></text></g>
<g id="mkt-customize"><rect class="bx" x="1355" y="1144" width="38" height="38" rx="1.5"/><text class="t" y="1159.3"><tspan x="1374">Physician can</tspan><tspan x="1374" dy="5.2">customize MKT</tspan><tspan x="1374" dy="5.2">Elements</tspan></text></g>
<g id="mkt-previews"><rect class="bx" x="1424" y="1144" width="38" height="38" rx="1.5"/><text class="t" y="1161.9"><tspan x="1443">Physician</tspan><tspan x="1443" dy="5.2">previews</tspan></text></g>
<g id="mkt-confirm"><polygon class="di" points="1443.5,1214 1462.5,1233 1443.5,1252 1424.5,1233"/><text class="t" y="1229.3"><tspan x="1443.5">Confirm</tspan><tspan x="1443.5" dy="5.2">Customiz</tspan><tspan x="1443.5" dy="5.2">ation?</tspan></text></g>
<g id="mkt-auto"><polygon class="pu" points="1502,1214 1532,1214 1524,1252 1494,1252"/><text class="t" y="1220.5"><tspan x="1513">MKT</tspan><tspan x="1513" dy="5.2">Elements</tspan><tspan x="1513" dy="5.2">are</tspan><tspan x="1513" dy="5.2">automatica</tspan><tspan x="1513" dy="5.2">lly</tspan><tspan x="1513" dy="5.2">generated</tspan></text></g>
<g id="mkt-website-note"><rect class="ye" x="1494" y="1144" width="38" height="38" rx="1.5"/><text class="tl" y="1156.7"><tspan x="1497">• Website</tspan><tspan x="1497" dy="5.2">• Brochure</tspan><tspan x="1497" dy="5.2">• Email</tspan><tspan x="1500" dy="5.2">templates</tspan></text></g>
<g id="mkt-ai-choice"><rect class="bx" x="1564" y="1214" width="38" height="38" rx="1.5"/><text class="t" y="1224.1"><tspan x="1583">Physician selects</tspan><tspan x="1583" dy="5.2">if they want to use</tspan><tspan x="1583" dy="5.2">AI or record</tspan><tspan x="1583" dy="5.2">manually each</tspan><tspan x="1583" dy="5.2">Video</tspan></text></g>
<g id="mkt-devices"><rect class="bx" x="1633" y="1214" width="38" height="38" rx="1.5"/><text class="t" y="1229.3"><tspan x="1652">Physician</tspan><tspan x="1652" dy="5.2">previews devices</tspan><tspan x="1652" dy="5.2">and video quality</tspan></text></g>
<g id="mkt-use-ai"><polygon class="di" points="1653,1283 1672,1302 1653,1321 1634,1302"/><text class="t" x="1653" y="1303.5">Use AI?</text></g>
<g id="mkt-disclaimer"><rect class="gy" x="1564" y="1274" width="38" height="56" rx="1.5"/><text class="t" y="1282.7"><tspan x="1583">• Disclaimer:</tspan><tspan x="1583" dy="5.2">After</tspan><tspan x="1583" dy="5.2">approving, we</tspan><tspan x="1583" dy="5.2">don't change</tspan><tspan x="1583" dy="5.2">the medium as</tspan><tspan x="1583" dy="5.2">the</tspan><tspan x="1583" dy="5.2">foundation for</tspan><tspan x="1583" dy="5.2">the whole mkt</tspan><tspan x="1583" dy="5.2">cadence</tspan></text></g>
<g id="mkt-ai-script"><rect class="bx" x="1703" y="1283" width="38" height="38" rx="1.5"/><text class="t" y="1295.7"><tspan x="1722">Physicians record</tspan><tspan x="1722" dy="5.2">themselves</tspan><tspan x="1722" dy="5.2">reading through</tspan><tspan x="1722" dy="5.2">the AI Script</tspan></text></g>
<g id="mkt-consent"><rect class="bx" x="1773" y="1283" width="38" height="38" rx="1.5"/><text class="t" y="1298.3"><tspan x="1792">Physician records</tspan><tspan x="1792" dy="5.2">Consent to use AI</tspan><tspan x="1792" dy="5.2">to generate videos</tspan></text></g>
<g id="mkt-biometric"><rect class="bx" x="1842" y="1283" width="38" height="38" rx="1.5"/><text class="t" y="1295.7"><tspan x="1861">Physician inputs</tspan><tspan x="1861" dy="5.2">biometric data</tspan><tspan x="1861" dy="5.2">and scans face/</tspan><tspan x="1861" dy="5.2">upload headshots</tspan></text></g>
<g id="mkt-eye-note"><rect class="ye" x="1842" y="1214" width="38" height="38" rx="1.5"/><text class="tl" y="1224.1"><tspan x="1845">• Eye Color</tspan><tspan x="1845" dy="5.2">• Build</tspan><tspan x="1845" dy="5.2">• Facial Scan/</tspan><tspan x="1848" dy="5.2">Upload</tspan><tspan x="1848" dy="5.2">Headshots</tspan></text></g>
<g id="mkt-ai-videos"><polygon class="pu" points="1920,1283 1950,1283 1942,1321 1912,1321"/><text class="t" y="1300.9"><tspan x="1931">AI Videos</tspan><tspan x="1931" dy="5.2">Generation</tspan></text></g>
<g id="mkt-video-contents"><rect class="bx" x="1633" y="1353" width="38" height="38" rx="1.5"/><text class="t" y="1368.3"><tspan x="1652">Physician</tspan><tspan x="1652" dy="5.2">previews Video</tspan><tspan x="1652" dy="5.2">contents</tspan></text></g>
<g id="mkt-script"><rect class="bx" x="1703" y="1353" width="38" height="38" rx="1.5"/><text class="t" y="1368.3"><tspan x="1722">Physician records</tspan><tspan x="1722" dy="5.2">reading through</tspan><tspan x="1722" dy="5.2">the Script</tspan></text></g>
<g id="mkt-reviews"><rect class="bx" x="1912" y="1353" width="38" height="38" rx="1.5"/><text class="t" y="1365.7"><tspan x="1931">Physician reviews</tspan><tspan x="1931" dy="5.2">videos and can</tspan><tspan x="1931" dy="5.2">approve or</tspan><tspan x="1931" dy="5.2">recapture</tspan></text></g>
<g id="mkt-approve"><polygon class="di" points="1931,1422.5 1950,1441.5 1931,1460.5 1912,1441.5"/><text class="t" x="1931" y="1443">Approve?</text></g>
<g id="mkt-staff-review"><rect class="rd" x="1912" y="1492" width="38" height="38" rx="1.5"/><text class="t" y="1507.3"><tspan x="1931">LH Staff Review</tspan><tspan x="1931" dy="5.2">and Approve</tspan><tspan x="1931" dy="5.2">Recordings</tspan></text></g>
<!-- Data intake nodes -->
<g id="data-start"><circle class="gr" cx="2001" cy="1160" r="19"/><text class="t" x="2001" y="1161.5">Data Intake</text></g>
<g id="data-baa"><polygon class="pu" points="2060,1141 2090,1141 2082,1179 2052,1179"/><text class="t" y="1158.9"><tspan x="2071">BAA sent</tspan><tspan x="2071" dy="5.2">for Signing</tspan></text></g>
<g id="data-signs"><rect class="bx" x="2121" y="1141" width="38" height="38" rx="1.5"/><text class="t" y="1151.1"><tspan x="2140">Physician signs</tspan><tspan x="2140" dy="5.2">BAA &amp; Confirms</tspan><tspan x="2140" dy="5.2">LH has</tspan><tspan x="2140" dy="5.2">permissions to</tspan><tspan x="2140" dy="5.2">contact patients</tspan></text></g>
<g id="data-disclaimer"><rect class="ye" x="2121" y="1210" width="38" height="38" rx="1.5"/><text class="tl" y="1220.1"><tspan x="2123.5">• Disclaimer: We</tspan><tspan x="2126.5" dy="5.2">do not market</tspan><tspan x="2126.5" dy="5.2">to your</tspan><tspan x="2126.5" dy="5.2">patients, don't</tspan><tspan x="2126.5" dy="5.2">sell your data</tspan></text></g>
<g id="data-select"><rect class="bx" x="2191" y="1141" width="38" height="38" rx="1.5"/><text class="t" y="1156.3"><tspan x="2210">Physician selects</tspan><tspan x="2210" dy="5.2">Data intake</tspan><tspan x="2210" dy="5.2">method</tspan></text></g>
<g id="data-method"><polygon class="di" points="2280,1141 2299,1160 2280,1179 2261,1160"/><text class="t" x="2280" y="1161.5">Method</text></g>
<g id="data-template"><rect class="bx" x="2261" y="1210" width="38" height="38" rx="1.5"/><text class="t" y="1225.3"><tspan x="2280">Physician</tspan><tspan x="2280" dy="5.2">downloads data</tspan><tspan x="2280" dy="5.2">template</tspan></text></g>
<g id="data-manual"><rect class="bx" x="2261" y="1280" width="38" height="38" rx="1.5"/><text class="t" y="1295.3"><tspan x="2280">Physician follows</tspan><tspan x="2280" dy="5.2">manual upload</tspan><tspan x="2280" dy="5.2">instructions</tspan></text></g>
<!-- Widget nodes -->
<g id="w-version"><polygon class="pu" points="2338,1141 2368,1141 2360,1179 2330,1179"/><text class="t" y="1151.1"><tspan x="2349">Widget</tspan><tspan x="2349" dy="5.2">version</tspan><tspan x="2349" dy="5.2">based on</tspan><tspan x="2349" dy="5.2">previous</tspan><tspan x="2349" dy="5.2">input</tspan></text></g>
<g id="w-download"><rect class="bx" x="2400" y="1141" width="38" height="38" rx="1.5"/><text class="t" y="1158.9"><tspan x="2419">Physician</tspan><tspan x="2419" dy="5.2">downloads widget</tspan></text></g>
<g id="w-emr"><rect class="bx" x="2469" y="1141" width="38" height="38" rx="1.5"/><text class="t" y="1158.9"><tspan x="2488">Physician</tspan><tspan x="2488" dy="5.2">navigates to EMR</tspan></text></g>
<g id="w-toolbar"><rect class="bx" x="2539" y="1141" width="38" height="38" rx="1.5"/><text class="t" y="1156.3"><tspan x="2558">Physician clicks</tspan><tspan x="2558" dy="5.2">on Widget on</tspan><tspan x="2558" dy="5.2">Toolbar</tspan></text></g>
<g id="w-login"><rect class="bx" x="2609" y="1141" width="38" height="38" rx="1.5"/><text class="t" y="1156.3"><tspan x="2628">Login;</tspan><tspan x="2628" dy="5.2">Authentication</tspan><tspan x="2628" dy="5.2">Flow</tspan></text></g>
<g id="w-instructions"><rect class="bx" x="2678" y="1141" width="38" height="38" rx="1.5"/><text class="t" y="1158.9"><tspan x="2697">Physician follows</tspan><tspan x="2697" dy="5.2">instructions</tspan></text></g>
<g id="w-ehr-note"><rect class="ye" x="2678" y="1071" width="38" height="38" rx="1.5"/><text class="tl" y="1083.7"><tspan x="2681">• Tailored</tspan><tspan x="2684" dy="5.2">towards</tspan><tspan x="2684" dy="5.2">previously</tspan><tspan x="2684" dy="5.2">selected EHR</tspan></text></g>
<g id="w-extracted"><polygon class="di" points="2697.5,1210 2716.5,1229 2697.5,1248 2678.5,1229"/><text class="t" y="1225.3"><tspan x="2697.5">File</tspan><tspan x="2697.5" dy="5.2">Extract</tspan><tspan x="2697.5" dy="5.2">ed?</tspan></text></g>
<g id="w-import"><polygon class="pu" points="2338,1280 2368,1280 2360,1318 2330,1318"/><text class="t" y="1295.3"><tspan x="2349">Data</tspan><tspan x="2349" dy="5.2">Import &amp;</tspan><tspan x="2349" dy="5.2">Processing</tspan></text></g>
<g id="w-phone"><rect class="bx" x="2400" y="1280" width="38" height="38" rx="1.5"/><text class="t" y="1297.9"><tspan x="2419">Walkthrough via</tspan><tspan x="2419" dy="5.2">Phone</tspan></text></g>
<g id="w-success"><polygon class="di" points="2349,1349.5 2368,1368.5 2349,1387.5 2330,1368.5"/><text class="t" y="1367.4"><tspan x="2349">Successf</tspan><tspan x="2349" dy="5.2">ul?</tspan></text></g>
<g id="w-pays"><rect class="bx" x="2400" y="1349" width="38" height="38" rx="1.5"/><text class="t" y="1364.3"><tspan x="2419">Physician pays</tspan><tspan x="2419" dy="5.2">and schedules</tspan><tspan x="2419" dy="5.2">walkthrough</tspan></text></g>
<g id="w-credit-note"><rect class="ye" x="2400" y="1419" width="38" height="38" rx="1.5"/><text class="t" y="1436.9"><tspan x="2419">• Credited back</tspan><tspan x="2419" dy="5.2">once they start</tspan></text></g>
<g id="w-analysis"><polygon class="pu" points="2338,1419 2368,1419 2360,1457 2330,1457"/><text class="t" y="1434.3"><tspan x="2349">Financial</tspan><tspan x="2349" dy="5.2">Analysis</tspan><tspan x="2349" dy="5.2">Breakdown</tspan></text></g>
<g id="w-portal-home"><rect class="rd" x="2330" y="1489" width="38" height="38" rx="1.5"/><text class="t" y="1501.7"><tspan x="2349">Physician is</tspan><tspan x="2349" dy="5.2">redirected to</tspan><tspan x="2349" dy="5.2">Portal Home</tspan><tspan x="2349" dy="5.2">Screen</tspan></text></g>
<g id="w-first-login"><circle class="rd" cx="2349" cy="1571" r="12.5"/><text class="t u" y="1569.9"><tspan x="2349">First-time</tspan><tspan x="2349" dy="5.2">login</tspan></text></g>
<!-- Section titles -->
<g id="titles">
<g id="title-user-type"><rect x="22" y="21" width="235" height="37" rx="7" fill="#d6cccc" stroke="#a89f9f" stroke-width="1.2"/><text x="32.7" y="47.5" textLength="213" lengthAdjust="spacingAndGlyphs" style="font-family:Inter,'Liberation Sans',sans-serif;font-size:22px;font-weight:700;fill:#111">Physician User Type</text></g>
<g id="title-green"><rect x="451" y="31" width="160" height="38" rx="6" fill="#cbf3d2" stroke="#62cf74" stroke-width="1.2"/><text class="st" x="461" y="57.3" textLength="140" lengthAdjust="spacingAndGlyphs">Physician - ...</text></g>
<g id="title-crm"><rect x="33" y="171" width="378" height="36" rx="6" fill="#fbc2e5" stroke="#e84fb5" stroke-width="1.2"/><text class="st" x="43" y="196.3" textLength="358" lengthAdjust="spacingAndGlyphs">Physician - CRM &amp; Marketing Ou...</text></g>
<g id="title-account"><rect x="451" y="240" width="458" height="38" rx="6" fill="#c2e3fd" stroke="#4fa6ef" stroke-width="1.2"/><text class="st" x="461.3" y="266.3" textLength="437" lengthAdjust="spacingAndGlyphs">Physician - Account Creation/Onboarding</text></g>
<g id="title-verification"><rect x="465" y="654" width="158" height="38" rx="6" fill="#e3e3e3" stroke="#adadad" stroke-width="1.2"/><text class="st" x="475.6" y="680.3" textLength="137" lengthAdjust="spacingAndGlyphs">Verification...</text></g>
<g id="title-portal"><rect x="1121" y="241" width="302" height="36" rx="6" fill="#c6f7f1" stroke="#5fd6c6" stroke-width="1.2"/><text class="st" x="1130.7" y="266.3" textLength="281" lengthAdjust="spacingAndGlyphs">Physician - Portal Features</text></g>
<g id="title-concierge"><rect x="661" y="1072.5" width="308" height="36.5" rx="6" fill="#fdeec1" stroke="#f3c453" stroke-width="1.2"/><text class="st" x="670.7" y="1098.3" textLength="288.6" lengthAdjust="spacingAndGlyphs">Physician - Concierge Set...</text></g>
<g id="title-mkt"><rect x="1008" y="1072.5" width="357" height="36.5" rx="6" fill="#fdeec1" stroke="#f3c453" stroke-width="1.2"/><text class="st" x="1018.3" y="1098.3" textLength="336.7" lengthAdjust="spacingAndGlyphs">Physician - MKT Media Creation</text></g>
<g id="title-data"><rect x="1983" y="1072.5" width="262" height="36.5" rx="6" fill="#fdeec1" stroke="#f3c453" stroke-width="1.2"/><text class="st" x="1993.3" y="1098.3" textLength="241.7" lengthAdjust="spacingAndGlyphs">Physician - Data Intake</text></g>
<g id="title-widget"><rect x="2321" y="1076" width="217" height="37" rx="6" fill="#e0d4fd" stroke="#9a6bf0" stroke-width="1.2"/><text class="st" x="2331.7" y="1101.8" textLength="196.6" lengthAdjust="spacingAndGlyphs">Physician - Widget</text></g>
</g>
</svg>
